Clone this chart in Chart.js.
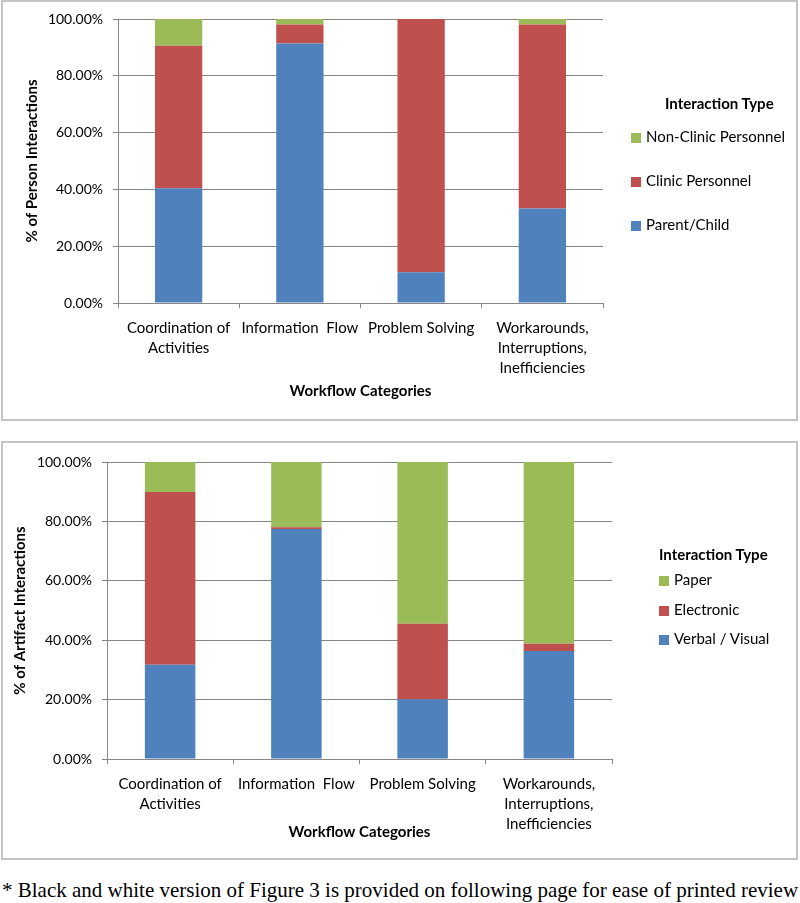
<!DOCTYPE html>
<html>
<head>
<meta charset="utf-8">
<script src="https://cdn.jsdelivr.net/npm/chart.js@4"></script>
<style>
  body { margin: 0; background: #fff; width: 800px; height: 903px; position: relative; overflow: hidden; }
  .box { position: absolute; box-sizing: border-box; border: 2px solid #c4c4c4; }
  canvas { position: absolute; left: 0; }
  .legend { position: absolute; font-family: Lato, sans-serif; font-size: 15px; color: #000; }
  .legend .title { font-weight: bold; position: absolute; white-space: nowrap; }
  .legend .item { position: absolute; white-space: nowrap; line-height: 16px; }
  .legend .sw { display: inline-block; width: 10px; height: 10px; margin-right: 5px; vertical-align: -1px; }
  #note { position: absolute; left: 2px; top: 878px; font-family: "Liberation Serif", serif; font-size: 21px; white-space: nowrap; color: #000; }
</style>
</head>
<body>
<div class="box" style="left:1px; top:0px; width:797px; height:421px;"></div>
<div class="box" style="left:1px; top:441px; width:797px; height:419px;"></div>
<canvas id="personChart" width="800" height="420" style="top:0px"></canvas>
<canvas id="artifactChart" width="800" height="416" style="top:442px"></canvas>
<div class="legend" id="personLegend"></div>
<div class="legend" id="artifactLegend"></div>
<div id="note">* Black and white version of Figure 3 is provided on following page for ease of printed review</div>

<script>
let categories = [
  ['Coordination of', 'Activities'],
  'Information  Flow',
  'Problem Solving',
  ['Workarounds,', 'Interruptions,', 'Inefficiencies']
]

// chart 1 - person interactions (%)
let parentChild = [40.4, 91.4, 10.8, 33.3]
let clinicPersonnel = [50.2, 6.7, 89.2, 64.8]
let nonClinicPersonnel = [9.4, 1.9, 0, 1.9]

// chart 2 - artifact interactions (%)
let verbalVisual = [31.7, 77.4, 20.1, 36.4]
let electronic = [58.2, 0.6, 25.4, 2.4]
let paper = [10.1, 22.0, 54.5, 61.2]

let yTicks = [0, 20, 40, 60, 80, 100]

const blue = '#4F81BD'
const red = '#C0504D'
const green = '#9BBB59'
const gridColor = '#868686'
const fontFam = 'Lato, sans-serif'

function makeChart(canvasId, yTitle, series, opts) {
  let ctx = document.getElementById(canvasId).getContext('2d')
  return new Chart(ctx, {
    type: 'bar',
    data: {
      labels: categories,
      datasets: series.map(s => ({
        label: s.label,
        data: s.data,
        backgroundColor: s.color,
        borderWidth: 0,
        categoryPercentage: 1,
        barPercentage: opts.barPct
      }))
    },
    options: {
      responsive: false,
      animation: false,
      events: [],
      layout: { padding: { left: 0, right: opts.padRight, top: opts.padTop, bottom: 0 } },
      plugins: { legend: { display: false }, tooltip: { enabled: false } },
      scales: {
        x: {
          stacked: true,
          offset: true,
          grid: { offset: true, drawOnChartArea: false, color: gridColor, tickLength: 5, tickColor: gridColor },
          border: { color: gridColor, width: 1 },
          ticks: { color: '#000', font: { family: fontFam, size: 15, lineHeight: 1.33 }, padding: 10, maxRotation: 0, autoSkip: false },
          title: { display: true, text: 'Workflow Categories', color: '#000', font: { family: fontFam, size: 15, weight: 'bold' }, padding: { top: 0, bottom: opts.xTitlePad } },
          afterFit: (scale) => { scale.height = opts.xHeight }
        },
        y: {
          stacked: true,
          min: 0,
          max: 100,
          afterBuildTicks: (scale) => { scale.ticks = yTicks.map(v => ({ value: v })) },
          grid: { color: gridColor, tickLength: 5, tickColor: gridColor },
          border: { color: gridColor, width: 1 },
          ticks: { color: '#000', font: { family: fontFam, size: 14 }, padding: 10, callback: (v) => v.toFixed(2) + '%' },
          title: { display: true, text: yTitle, color: '#000', font: { family: fontFam, size: 15, weight: 'bold' }, padding: { top: opts.yTitlePad, bottom: 0 } },
          afterFit: (scale) => { scale.width = opts.yWidth }
        }
      }
    }
  })
}

function makeLegend(id, title, items, pos) {
  let leg = document.getElementById(id)
  let t = document.createElement('div')
  t.className = 'title'
  t.innerText = title
  t.style.left = pos.titleX + 'px'
  t.style.top = pos.titleY + 'px'
  leg.appendChild(t)
  items.forEach((it, i) => {
    let d = document.createElement('div')
    d.className = 'item'
    d.style.left = pos.itemX + 'px'
    d.style.top = (pos.itemY + i * pos.step) + 'px'
    d.innerHTML = `<span class="sw" style="background:${it.color}"></span>${it.label}`
    leg.appendChild(d)
  })
}

let personSeries = [
  { label: 'Parent/Child', data: parentChild, color: blue },
  { label: 'Clinic Personnel', data: clinicPersonnel, color: red },
  { label: 'Non-Clinic Personnel', data: nonClinicPersonnel, color: green }
]
let artifactSeries = [
  { label: 'Verbal / Visual', data: verbalVisual, color: blue },
  { label: 'Electronic', data: electronic, color: red },
  { label: 'Paper', data: paper, color: green }
]

makeChart('personChart', '% of Person Interactions', personSeries,
  { barPct: 0.39, padRight: 197, padTop: 19, xHeight: 117, yWidth: 118, xTitlePad: 20, yTitlePad: 23 })
makeChart('artifactChart', '% of Artifact Interactions', artifactSeries,
  { barPct: 0.4, padRight: 188, padTop: 20, xHeight: 99, yWidth: 107, xTitlePad: 17, yTitlePad: 11 })

makeLegend('personLegend', 'Interaction Type', personSeries.slice().reverse(),
  { titleX: 665, titleY: 94, itemX: 631, itemY: 128, step: 44 })
makeLegend('artifactLegend', 'Interaction Type', artifactSeries.slice().reverse(),
  { titleX: 659, titleY: 545, itemX: 659, itemY: 571, step: 29.5 })
</script>
</body>
</html>
